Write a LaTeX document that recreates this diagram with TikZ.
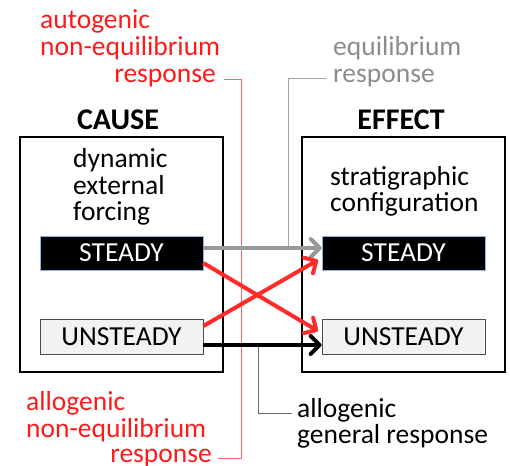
\documentclass[tikz,border=0pt]{standalone}
\usepackage{fontspec}
\setmainfont{Carlito}
\usetikzlibrary{arrows.meta}
\definecolor{myred}{HTML}{FF2A2A}
\definecolor{labred}{HTML}{FF1A1A}
\definecolor{mygray}{HTML}{999999}
\definecolor{labgray}{HTML}{8C8C8C}
\definecolor{lead}{HTML}{A6A6A6}
\definecolor{boxedge}{HTML}{8DB3E2}
\begin{document}
\begin{tikzpicture}[x=1pt,y=-1pt,
  txt/.style={inner sep=0pt,font=\fontsize{27.5}{27.5}\selectfont},
  hdr/.style={inner sep=0pt,font=\fontsize{30}{30}\selectfont\bfseries},
  frame/.style={draw=black,line width=1.6pt},
  steadybox/.style={fill=black,draw=boxedge,line width=0.6pt,text=white,minimum width=163pt,minimum height=34pt,inner sep=0pt,font=\fontsize{27.5}{27.5}\selectfont},
  unsteadybox/.style={fill=black!5,draw=black!70,line width=0.8pt,text=black,minimum width=163pt,minimum height=35pt,inner sep=0pt,font=\fontsize{27.5}{27.5}\selectfont},
  arr/.style={line width=4pt,-{Straight Barb[length=9pt,width=18pt,line cap=round,line join=round]}},
  leadred/.style={draw=red!60,line width=0.7pt},
  leadgray/.style={draw=lead,line width=1pt},
  leadblack/.style={draw=black!60,line width=1pt}]
\useasboundingbox (0,0) rectangle (510,465);
% boxes
\draw[frame] (20,137) rectangle (223,372);
\draw[frame] (302,137) rectangle (505,372);
% headers
\node[hdr,anchor=base] (cause) at (118,129) {CAUSE};
\node[hdr,anchor=base] (effect) at (401,129) {EFFECT};
% inner texts
\node[txt,anchor=base west] (dyn1) at (73,167) {dynamic};
\node[txt,anchor=base west] (dyn2) at (73,194) {external};
\node[txt,anchor=base west] (dyn3) at (73,220) {forcing};
\node[txt,anchor=base west] (str1) at (330,185) {stratigraphic};
\node[txt,anchor=base west] (str2) at (330,211) {configuration};
% state boxes
\node[steadybox] (ls) at (121.5,253) {STEADY};
\node[unsteadybox] (lu) at (121.5,336.5) {UNSTEADY};
\node[steadybox] (rs) at (403.5,253) {STEADY};
\node[unsteadybox] (ru) at (403.5,336.5) {UNSTEADY};
% leader lines (behind arrows)
\coordinate (redtop) at (224,79);
\coordinate (redbot) at (218,458);
\draw[leadred] (redtop) -- (241,79) -- (241,458) -- (redbot);
\coordinate (graytop) at (326,79);
\coordinate (grayend) at (288,248);
\draw[leadgray] (graytop) -- (288,79) -- (grayend);
\coordinate (blkstart) at (258,345);
\coordinate (blkend) at (292,413);
\draw[leadblack] (blkstart) -- (258,413) -- (blkend);
% arrows
\draw[arr,mygray] (ls.east |- 0,248) -- (rs.west |- 0,248);
\draw[arr,myred] (ls.east |- 0,263) -- (318,331);
\draw[arr,myred] (lu.east |- 0,326) -- (318,260);
\draw[arr,black] (lu.east |- 0,345) -- (ru.west |- 0,345);
% labels
\node[txt,anchor=base west,text=labred] (a1) at (40,29) {autogenic};
\node[txt,anchor=base west,text=labred] (a2) at (40,56) {non-equilibrium};
\node[txt,anchor=base east,text=labred] (a3) at (216,83) {response};
\node[txt,anchor=base west,text=labgray] (e1) at (333,56) {equilibrium};
\node[txt,anchor=base west,text=labgray] (e2) at (333,83) {response};
\node[txt,anchor=base west,text=labred] (b1) at (26,410) {allogenic};
\node[txt,anchor=base west,text=labred] (b2) at (26,437) {non-equilibrium};
\node[txt,anchor=base east,text=labred] (b3) at (212,462) {response};
\node[txt,anchor=base west] (g1) at (297,417) {allogenic};
\node[txt,anchor=base west] (g2) at (297,443) {general response};
\end{tikzpicture}
\end{document}
